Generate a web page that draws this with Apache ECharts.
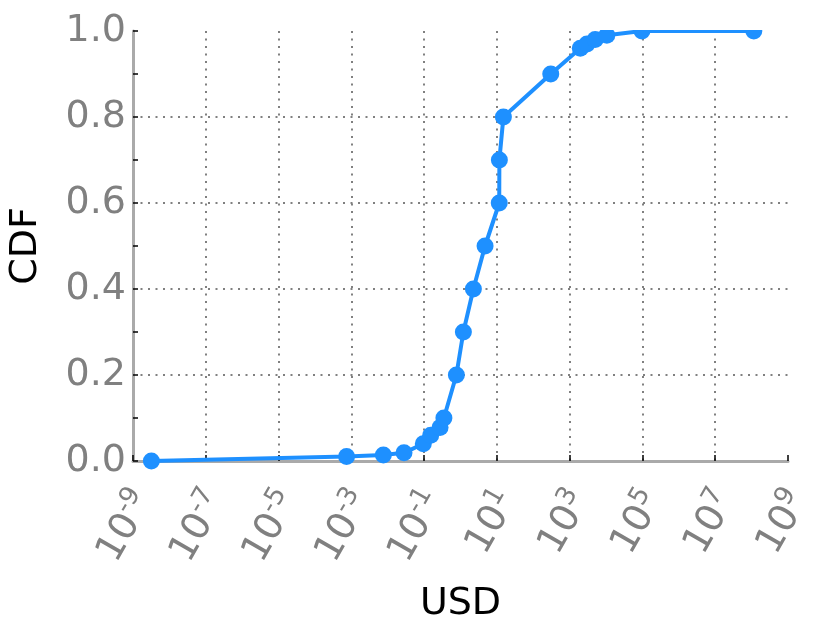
<!DOCTYPE html>
<html><head><meta charset="utf-8">
<script src="https://cdn.jsdelivr.net/npm/echarts@6/dist/echarts.min.js"></script>
<style>html,body{margin:0;padding:0;background:#fff}#c{width:830px;height:623px}</style>
</head><body><div id="c"></div>
<script>
// USD values (x) and CDF values (y)
const usd = [3.2e-9, 7.4e-4, 7.6e-3, 0.028, 0.095, 0.152, 0.274, 0.35, 0.77, 1.2, 2.26, 4.73, 11.6, 11.7, 15.1, 302, 1960, 2990, 5030, 10500, 96900, 1.15e8];
const cdf = [0, 0.0105, 0.014, 0.019, 0.04, 0.06, 0.078, 0.1, 0.2, 0.3, 0.4, 0.5, 0.6, 0.7, 0.8, 0.9, 0.96, 0.97, 0.98, 0.99, 1.0, 1.0];
const xTickExponents = [-9, -7, -5, -3, -1, 1, 3, 5, 7, 9];
const yTicks = [0, 0.2, 0.4, 0.6, 0.8, 1.0];

const xTickValues = xTickExponents.map(e => Math.pow(10, e));
const FONT = 'DejaVu Sans';
const grey = '#808080';
const gridLine = {show: true, showMinLine: false, showMaxLine: false,
  lineStyle: {color: '#808080', type: [2, 5.5], width: 2}};

const chart = echarts.init(document.getElementById('c'));
chart.setOption({
  animation: false,
  backgroundColor: '#fff',
  grid: {left: 133, right: 42, top: 31, bottom: 162, outerBoundsMode: 'none', containLabel: false},
  xAxis: {
    type: 'log', logBase: 10, min: 1e-9, max: 1e9,
    name: 'USD', nameLocation: 'middle', nameGap: 124, nameMoveOverlap: false,
    nameTextStyle: {color: '#000', fontSize: 38, fontFamily: FONT},
    axisLine: {show: true, onZero: false, lineStyle: {color: '#aaaaaa', width: 3}},
    axisTick: {show: true, inside: true, length: 6, customValues: xTickValues,
      lineStyle: {color: '#000', width: 1.5}},
    minorTick: {show: false},
    axisLabel: {
      customValues: xTickValues, rotate: 60, margin: 27, padding: [22, 0, 0, 0],
      formatter: v => '{b|10}{s|' + Math.round(Math.log10(v)) + '}',
      rich: {
        b: {fontSize: 38, color: grey, fontFamily: FONT, verticalAlign: 'bottom'},
        s: {fontSize: 26, color: grey, fontFamily: FONT, verticalAlign: 'bottom', padding: [0, 0, 17, 0]}
      }
    },
    splitLine: gridLine
  },
  yAxis: {
    type: 'value', min: yTicks[0], max: yTicks[yTicks.length - 1], interval: 0.2,
    name: 'CDF', nameLocation: 'middle', nameRotate: 90, nameGap: 88, nameMoveOverlap: false,
    nameTextStyle: {color: '#000', fontSize: 38, fontFamily: FONT},
    axisLine: {show: true, lineStyle: {color: '#aaaaaa', width: 3}},
    axisTick: {show: true, inside: true, length: 5, lineStyle: {color: '#000', width: 1.5}},
    minorTick: {show: true, splitNumber: 2, length: 5, lineStyle: {color: '#000', width: 1.5}},
    axisLabel: {formatter: v => v.toFixed(1), fontSize: 38, color: grey, fontFamily: FONT, margin: 7},
    splitLine: gridLine
  },
  // white band above the plot area to clip the marks at the top edge like the reference
  graphic: [{type: 'rect', left: 135, top: 0, z: 100,
    shape: {width: 695, height: 30},
    style: {fill: '#ffffff'}, silent: true}],
  series: [{
    type: 'line',
    data: usd.map((x, i) => [x, cdf[i]]),
    symbol: 'circle', symbolSize: 17,
    clip: true,
    lineStyle: {width: 4, color: '#1e90ff'},
    itemStyle: {color: '#1e90ff'}
  }]
});
</script>
</body></html>
